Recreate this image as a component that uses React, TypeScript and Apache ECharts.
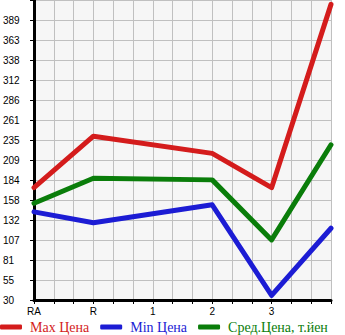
import React, { useEffect, useRef } from "react";
import * as echarts from "echarts";

const categories = ["RA", "R", "1", "2", "3", ""];
const maxPrice = [174, 240, 218, 174, 409];
const minPrice = [143, 129, 152, 36, 122];
const avgPrice = [154, 186, 184, 107, 229];
const yTickLabels = ["30", "55", "81", "107", "132", "158", "184", "209", "235", "261", "286", "312", "338", "363", "389", ""];
const yMin = 30;
const yStep = 25.64;
const xStepsPerCategory = 3;
const pointCats = [0, 1, 3, 4, 5];

export default function App() {
  const ref = useRef<HTMLDivElement>(null);
  useEffect(() => {
    const chart = echarts.init(ref.current!, undefined, { renderer: "svg" });
    const toPts = (vals: number[]) => vals.map((v, i) => [pointCats[i] * xStepsPerCategory, v]);
    const lineSeries = (name: string, color: string, vals: number[]) => ({
      name,
      type: "line",
      data: toPts(vals),
      symbol: "none",
      lineStyle: { color, width: 5, cap: "round", join: "round" },
      itemStyle: { color },
    });
    chart.setOption({
      animation: false,
      backgroundColor: "#ffffff",
      grid: { left: 31, right: 14, top: 0, bottom: 35, show: true, backgroundColor: "#f6f6f6", borderWidth: 0 },
      xAxis: {
        type: "value",
        min: 0,
        max: (categories.length - 1) * xStepsPerCategory,
        interval: 1,
        axisLine: { lineStyle: { color: "#000", width: 3 } },
        axisTick: { show: true, length: 4, lineStyle: { color: "#000", width: 1 } },
        splitLine: { show: true, lineStyle: { color: "#c0c0c0", width: 1 } },
        axisLabel: {
          color: "#000",
          fontSize: 10,
          fontFamily: "Liberation Sans",
          margin: 6,
          formatter: (v: number) => {
            const i = Math.round(v);
            return i % xStepsPerCategory === 0 ? categories[i / xStepsPerCategory] ?? "" : "";
          },
        },
      },
      yAxis: {
        type: "value",
        min: yMin,
        max: yMin + 15 * yStep,
        interval: yStep,
        axisLine: { show: true, lineStyle: { color: "#000", width: 3 } },
        axisTick: { show: true, length: 4, lineStyle: { color: "#000", width: 1 } },
        splitLine: { show: true, lineStyle: { color: "#c0c0c0", width: 1 } },
        axisLabel: {
          color: "#000",
          fontSize: 10,
          fontFamily: "Liberation Sans",
          margin: 31,
          align: "left",
          padding: [0, 0, 6, 0],
          formatter: (v: number) => yTickLabels[Math.round((v - yMin) / yStep)] ?? "",
        },
      },
      legend: {
        left: 0,
        top: 320,
        padding: 0,
        width: 345,
        itemWidth: 22,
        itemHeight: 5,
        itemGap: 11,
        icon: "roundRect",
        textStyle: { fontFamily: "Liberation Serif", fontSize: 14, padding: [0, 0, 0, 3] },
        data: [
          { name: "Max Цена", textStyle: { color: "#d41c1c" } },
          { name: "Min Цена", textStyle: { color: "#1c1cd4" } },
          { name: "Сред.Цена, т.йен", textStyle: { color: "#0a7d0a" } },
        ],
      },
      series: [
        lineSeries("Max Цена", "#d41c1c", maxPrice),
        lineSeries("Min Цена", "#1c1cd4", minPrice),
        lineSeries("Сред.Цена, т.йен", "#0a7d0a", avgPrice),
      ],
    });
    return () => chart.dispose();
  }, []);
  return <div ref={ref} style={{ width: 345, height: 335, position: "absolute", left: 0, top: 0 }} />;
}
